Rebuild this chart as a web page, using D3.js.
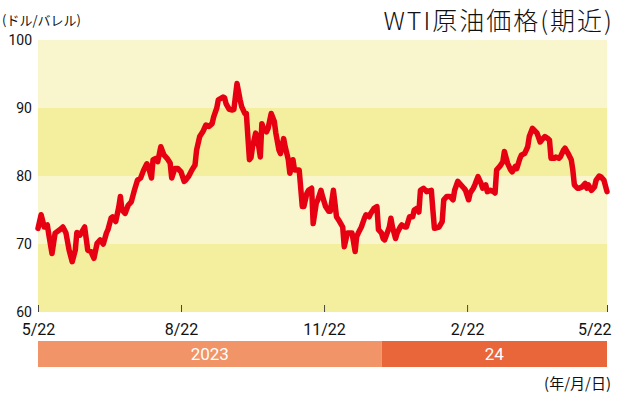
<!DOCTYPE html>
<html>
<head>
<meta charset="utf-8">
<script src="https://cdn.jsdelivr.net/npm/d3@7/dist/d3.min.js"></script>
<style>
  body { margin: 0; background: #fff; }
  svg { display: block; }
  .num { font-family: Roboto, "Liberation Sans", sans-serif; }
  .jp { font-family: "Noto Sans CJK JP", "Noto Sans", sans-serif; }
</style>
</head>
<body>
<div id="chart"></div>
<script>
// WTI原油価格(期近) 日次終値(ドル/バレル)
const dates = [
  "2023-05-22","2023-05-24","2023-05-26","2023-05-28","2023-05-29","2023-05-31",
  "2023-06-02","2023-06-05","2023-06-07","2023-06-09","2023-06-11","2023-06-13","2023-06-15","2023-06-16",
  "2023-06-18","2023-06-21","2023-06-22","2023-06-23","2023-06-25","2023-06-27","2023-06-29",
  "2023-07-01","2023-07-03","2023-07-05","2023-07-06","2023-07-08","2023-07-09","2023-07-11","2023-07-13",
  "2023-07-14","2023-07-15","2023-07-17","2023-07-19","2023-07-21","2023-07-23","2023-07-25","2023-07-27",
  "2023-07-29","2023-07-31",
  "2023-08-01","2023-08-03","2023-08-04","2023-08-06","2023-08-07","2023-08-09","2023-08-11","2023-08-13",
  "2023-08-15","2023-08-16","2023-08-18","2023-08-20","2023-08-22","2023-08-24","2023-08-25","2023-08-27",
  "2023-08-29","2023-08-31",
  "2023-09-01","2023-09-03","2023-09-05","2023-09-07","2023-09-09","2023-09-11","2023-09-12","2023-09-14",
  "2023-09-15","2023-09-18","2023-09-19","2023-09-20","2023-09-22","2023-09-24","2023-09-25","2023-09-27",
  "2023-09-29","2023-09-30",
  "2023-10-02","2023-10-03","2023-10-05","2023-10-06","2023-10-07","2023-10-09","2023-10-10","2023-10-12",
  "2023-10-13","2023-10-14","2023-10-16","2023-10-17","2023-10-19","2023-10-21","2023-10-22","2023-10-24",
  "2023-10-25","2023-10-27","2023-10-28","2023-10-30","2023-10-31",
  "2023-11-02","2023-11-03","2023-11-05","2023-11-06","2023-11-08","2023-11-09","2023-11-11","2023-11-12",
  "2023-11-14","2023-11-15","2023-11-17","2023-11-18","2023-11-20","2023-11-21","2023-11-23","2023-11-25",
  "2023-11-26","2023-11-28","2023-11-29","2023-11-30",
  "2023-12-02","2023-12-04","2023-12-05","2023-12-07","2023-12-09","2023-12-10","2023-12-12","2023-12-13",
  "2023-12-14","2023-12-16","2023-12-18","2023-12-19","2023-12-21","2023-12-22","2023-12-24","2023-12-26",
  "2023-12-27","2023-12-29","2023-12-30","2023-12-31",
  "2024-01-03","2024-01-04","2024-01-05","2024-01-07","2024-01-08","2024-01-10","2024-01-11","2024-01-13",
  "2024-01-14","2024-01-16","2024-01-18","2024-01-19","2024-01-21","2024-01-22","2024-01-23","2024-01-25",
  "2024-01-27","2024-01-30","2024-01-31",
  "2024-02-01","2024-02-04","2024-02-06","2024-02-07","2024-02-09","2024-02-11","2024-02-13","2024-02-14",
  "2024-02-16","2024-02-18","2024-02-20","2024-02-21","2024-02-23","2024-02-24","2024-02-26","2024-02-27",
  "2024-02-29",
  "2024-03-02","2024-03-03","2024-03-05","2024-03-06","2024-03-08","2024-03-10","2024-03-11","2024-03-12",
  "2024-03-14","2024-03-16","2024-03-17","2024-03-19","2024-03-21","2024-03-22","2024-03-24","2024-03-25",
  "2024-03-27","2024-03-28","2024-03-30",
  "2024-04-01","2024-04-02","2024-04-04","2024-04-05","2024-04-07","2024-04-09","2024-04-10","2024-04-12",
  "2024-04-14","2024-04-15","2024-04-16","2024-04-18","2024-04-19","2024-04-21","2024-04-22","2024-04-24",
  "2024-04-25","2024-04-27","2024-04-29","2024-04-30",
  "2024-05-01","2024-05-03","2024-05-04","2024-05-06","2024-05-08","2024-05-09","2024-05-10","2024-05-12",
  "2024-05-14","2024-05-15","2024-05-17","2024-05-18","2024-05-20","2024-05-22"
];
const prices = [
  72.3, 74.3, 72.5, 72.8, 71.3, 68.6,
  71.6, 72.1, 72.5, 71.6, 69.1, 67.4, 69.1, 71.7,
  71.3, 72.5, 70.8, 69.1, 68.9, 67.9, 70.1,
  70.6, 70.0, 71.6, 72.1, 73.8, 74.0, 73.3, 75.5,
  77.0, 75.0, 74.5, 75.7, 76.2, 77.9, 79.4, 79.7,
  80.9, 81.8,
  81.4, 79.7, 82.4, 82.6, 82.1, 84.3, 83.1, 82.6,
  81.9, 79.7, 81.1, 81.1, 80.6, 79.2, 79.4, 80.0,
  80.9, 81.6,
  83.8, 85.8, 86.5, 87.5, 87.3, 87.7, 88.7, 90.0,
  91.2, 91.6, 91.5, 90.6, 89.8, 89.7, 89.8, 93.6,
  91.2, 90.2,
  89.2, 89.2, 82.4, 82.7, 84.3, 86.3, 85.8, 82.8,
  87.7, 87.0, 86.5, 87.0, 89.2, 88.0, 86.3, 83.8,
  83.3, 85.5, 84.3, 82.4, 80.4,
  82.4, 80.9, 80.9, 80.9, 75.5, 75.5, 77.5, 77.9,
  78.2, 73.0, 76.0, 76.5, 77.9, 77.0, 75.5, 74.8,
  74.8, 77.9, 76.0, 74.0,
  73.3, 72.5, 69.6, 71.6, 71.6, 71.6, 68.9, 71.1,
  71.6, 72.5, 73.8, 74.3, 74.0, 74.5, 75.2, 75.5,
  72.1, 71.6, 70.8, 70.6,
  72.5, 73.8, 72.5, 70.8, 71.6, 72.5, 72.8, 72.5,
  72.5, 74.0, 74.0, 75.0, 75.3, 74.7, 77.9, 78.2,
  77.7, 77.9, 75.0,
  72.3, 72.5, 73.3, 76.5, 77.0, 77.0, 76.5, 77.9,
  79.2, 78.7, 78.2, 77.9, 76.5, 77.5, 78.2, 78.7,
  79.9,
  78.9, 78.2, 78.7, 77.7, 77.9, 77.7, 77.5, 80.9,
  81.4, 82.1, 83.6, 81.9, 80.9, 80.6, 81.4, 81.1,
  82.6, 83.1, 83.3,
  84.3, 85.8, 87.0, 86.8, 86.3, 85.0, 85.3, 85.8,
  85.5, 85.3, 82.6, 82.6, 82.8, 82.6, 82.8, 83.8,
  84.1, 83.3, 82.4, 80.9,
  78.7, 78.2, 78.2, 78.4, 78.9, 78.2, 78.7, 77.9,
  78.4, 79.4, 80.0, 79.9, 79.4, 77.7
];

// 目盛り
const yTicks = [60, 70, 80, 90, 100];
const xTickDates = ["2023-05-22", "2023-08-22", "2023-11-22", "2024-02-22", "2024-05-22"];
const xTickLabels = ["5/22", "8/22", "11/22", "2/22", "5/22"];

// 年の帯
const yearLabels = ["2023", "24"];
const yearStarts = ["2023-05-22", "2023-12-29"];
const yearEnds = ["2023-12-29", "2024-05-22"];

const parse = d3.timeParse("%Y-%m-%d");
const data = dates.map((d, i) => ({ date: parse(d), value: prices[i] }));

const width = 620, height = 393;
const plot = { left: 38, right: 607, top: 40, bottom: 312 };

const svg = d3.select("#chart").append("svg")
    .attr("width", width)
    .attr("height", height);

const x = d3.scaleTime()
    .domain([parse(xTickDates[0]), parse(xTickDates[xTickDates.length - 1])])
    .range([plot.left, plot.right]);

const y = d3.scaleLinear()
    .domain([yTicks[0], yTicks[yTicks.length - 1]])
    .range([plot.bottom, plot.top]);

// 背景の縞
svg.append("g")
    .selectAll("rect")
    .data(d3.pairs(yTicks))
    .join("rect")
    .attr("x", plot.left)
    .attr("width", plot.right - plot.left)
    .attr("y", d => y(d[1]))
    .attr("height", d => y(d[0]) - y(d[1]))
    .attr("fill", (d, i) => i % 2 === 0 ? "#f4ef9f" : "#f9f6cd");

// 縦軸ラベル
svg.append("g")
    .attr("class", "num")
    .selectAll("text")
    .data(yTicks)
    .join("text")
    .attr("x", 32)
    .attr("y", d => y(d))
    .attr("dy", "0.36em")
    .attr("text-anchor", "end")
    .attr("font-size", 14)
    .attr("fill", "#111")
    .text(d => d);

// 横軸(目盛りは上向き)
const xAxis = svg.append("g")
    .attr("class", "num")
    .attr("transform", `translate(0,${plot.bottom})`)
    .call(d3.axisBottom(x)
        .tickValues(xTickDates.map(parse))
        .tickFormat((d, i) => xTickLabels[i])
        .tickSizeInner(-7)
        .tickSizeOuter(0)
        .tickPadding(12));

xAxis.select(".domain").remove();
xAxis.selectAll(".tick line").attr("stroke", "#444");
xAxis.selectAll(".tick text")
    .attr("font-size", 16)
    .attr("fill", "#111")
    .attr("font-family", null);
xAxis.selectAll(".tick:last-of-type text")
    .attr("text-anchor", "end")
    .attr("x", 611 - plot.right);

// 価格の折れ線
const line = d3.line()
    .x(d => x(d.date))
    .y(d => y(d.value));

svg.append("path")
    .datum(data)
    .attr("fill", "none")
    .attr("stroke", "#e60012")
    .attr("stroke-width", 5.5)
    .attr("stroke-linejoin", "round")
    .attr("stroke-linecap", "round")
    .attr("d", line);

// 年の帯
const years = yearLabels.map((label, i) => ({ label, start: parse(yearStarts[i]), end: parse(yearEnds[i]) }));

const yearG = svg.append("g")
    .selectAll("g")
    .data(years)
    .join("g");

yearG.append("rect")
    .attr("x", d => x(d.start))
    .attr("width", d => x(d.end) - x(d.start))
    .attr("y", 341)
    .attr("height", 26)
    .attr("fill", (d, i) => i === 0 ? "#f19468" : "#e9653a");

yearG.append("text")
    .attr("class", "num")
    .attr("x", d => (x(d.start) + x(d.end)) / 2)
    .attr("y", 360)
    .attr("text-anchor", "middle")
    .attr("font-size", 17)
    .attr("fill", "#fff")
    .text(d => d.label);

// タイトル・単位
svg.append("text")
    .attr("class", "jp")
    .attr("x", 614)
    .attr("y", 30)
    .attr("text-anchor", "end")
    .attr("font-size", 25)
    .attr("font-weight", 300)
    .attr("letter-spacing", 2)
    .attr("fill", "#111")
    .text("WTI原油価格(期近)");

svg.append("text")
    .attr("class", "jp")
    .attr("x", 2)
    .attr("y", 25)
    .attr("font-size", 13)
    .attr("fill", "#111")
    .text("(ドル/バレル)");

svg.append("text")
    .attr("class", "jp")
    .attr("x", 611)
    .attr("y", 389)
    .attr("text-anchor", "end")
    .attr("font-size", 15)
    .attr("fill", "#111")
    .text("(年/月/日)");
</script>
</body>
</html>
